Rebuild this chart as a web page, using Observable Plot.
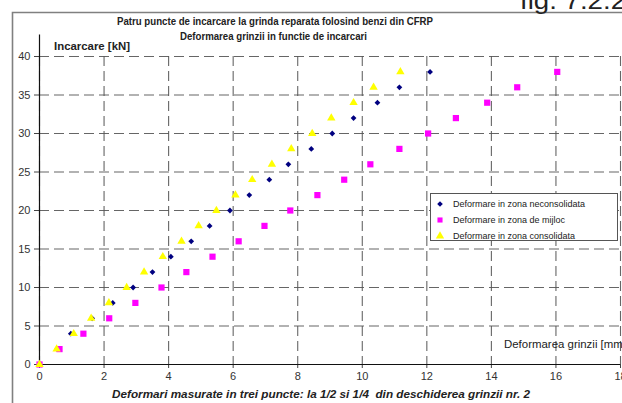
<!DOCTYPE html>
<html>
<head>
<meta charset="utf-8">
<script src="https://cdn.jsdelivr.net/npm/d3@7"></script>
<script src="https://cdn.jsdelivr.net/npm/@observablehq/plot@0.6"></script>
<style>
  html, body { margin: 0; padding: 0; background: #fff; }
  #chart { position: relative; width: 622px; height: 403px; overflow: hidden; font-family: Arial, "Liberation Sans", sans-serif; }
  #legend { position: absolute; left: 430px; top: 193px; width: 188px; height: 48px; border: 1px solid #555; background: #fff; font-size: 9px; color: #222; box-sizing: border-box; }
  #legend .row { position: absolute; left: 0; height: 14px; display: flex; align-items: center; white-space: nowrap; }
  #legend svg { margin-left: 4px; margin-right: 8px; }
</style>
</head>
<body>
<div id="chart"></div>
<script>
// ---- data ----
const loads = [0, 2, 4, 6, 8, 10, 12, 14, 16, 18, 20, 22, 24, 26, 28, 30, 32, 34, 36, 38];
const neconsolidata = [0, 0.55, 0.97, 1.63, 2.27, 2.9, 3.5, 4.07, 4.7, 5.27, 5.9, 6.5, 7.12, 7.71, 8.42, 9.07, 9.73, 10.47, 11.15, 12.1];
const mijloc = [0, 0.62, 1.36, 2.16, 2.97, 3.78, 4.55, 5.36, 6.17, 6.97, 7.77, 8.61, 9.44, 10.25, 11.15, 12.04, 12.9, 13.87, 14.8, 16.04];
const consolidata = [0, 0.53, 1.06, 1.6, 2.15, 2.7, 3.24, 3.82, 4.4, 4.93, 5.48, 6.07, 6.59, 7.2, 7.8, 8.45, 9.04, 9.73, 10.35, 11.18];
const seriesNames = ["Deformare in zona neconsolidata", "Deformare in zona de mijloc", "Deformare in zona consolidata"];
const seriesColors = ["#000080", "#ff00ff", "#ffff00"];
const seriesSymbols = ["diamond2", "square", "triangle"];
const xTicks = [0, 2, 4, 6, 8, 10, 12, 14, 16, 18];
const yTicks = [0, 5, 10, 15, 20, 25, 30, 35, 40];
const title1 = "Patru puncte de incarcare la grinda reparata folosind benzi din CFRP";
const title2 = "Deformarea grinzii in functie de incarcari";
const yLabel = "Incarcare [kN]";
const xLabel = "Deformarea grinzii [mm]";
const bottomTitle = "Deformari masurate in trei puncte: la 1/2 si 1/4  din deschiderea grinzii nr. 2";
const figLabel = "fig. 7.2.2";

const toRows = (vals) => vals.map((v, i) => ({x: v, y: loads[i]}));
const sets = [neconsolidata, mijloc, consolidata].map(toRows);
const radii = [2.6, 3.5, 3.1];

const dash = "10,5";
const plot = Plot.plot({
  width: 622,
  height: 403,
  marginLeft: 39,
  marginRight: 2,
  marginTop: 56,
  marginBottom: 39,
  style: {fontFamily: "Arial, 'Liberation Sans', sans-serif", fontSize: "11px", color: "#333", background: "transparent", overflow: "visible"},
  x: {domain: [0, 18]},
  y: {domain: [0, 40]},
  marks: [
    Plot.gridX(xTicks, {stroke: "#555", strokeOpacity: 0.9, strokeDasharray: dash, strokeWidth: 1.1}),
    Plot.gridY(yTicks, {stroke: "#555", strokeOpacity: 0.9, strokeDasharray: dash, strokeWidth: 1.1}),
    Plot.axisX(xTicks, {tickSize: 4, tickPadding: 4, label: null, stroke: "#444", fill: "#333"}),
    Plot.axisY(yTicks, {tickSize: 5, tickPadding: 4, label: null, stroke: "#444", fill: "#333"}),
    Plot.ruleY([0], {stroke: "#111", strokeWidth: 1.2}),
    Plot.ruleX([0], {y1: 0, y2: 42.8, stroke: "#111", strokeWidth: 1.2}),
    ...sets.map((rows, i) => Plot.dot(rows, {x: "x", y: "y", symbol: () => seriesSymbols[i], fill: seriesColors[i], stroke: "none", r: radii[i]}))
  ]
});
plot.style.position = "absolute";
plot.style.left = "0";
plot.style.top = "0";
const chart = document.getElementById("chart");
chart.appendChild(plot);

// overlay texts & frame inside the plot svg
const svg = d3.select(plot);
svg.append("path").attr("d", "M12.5,403V12.5H622").attr("fill", "none").attr("stroke", "#808080").attr("stroke-width", 1.6);
const addText = (t, x, y, opts) => {
  const el = svg.append("text").attr("x", x).attr("y", y).text(t)
    .attr("font-family", "Arial, 'Liberation Sans', sans-serif")
    .attr("font-size", opts.size || 11)
    .attr("font-weight", opts.weight || "normal")
    .attr("font-style", opts.style || "normal")
    .attr("fill", opts.fill || "#222")
    .attr("text-anchor", opts.anchor || "start");
  if (opts.len) el.attr("textLength", opts.len).attr("lengthAdjust", "spacingAndGlyphs");
  return el;
};
addText(figLabel, 520, 9, {size: 24, len: 106, fill: "#222"});
addText(title1, 117, 25, {weight: "bold", len: 316, size: 11});
addText(title2, 180, 40, {weight: "bold", len: 187, size: 11});
addText(yLabel, 54, 50, {weight: "bold", len: 76, size: 11});
addText(xLabel, 504, 348, {len: 122, size: 11});
addText(bottomTitle, 112, 398, {weight: "bold", style: "italic", len: 418, size: 11});

// legend
const legend = document.createElement("div");
legend.id = "legend";
const legendSymbols = [d3.symbolDiamond2, d3.symbolSquare, d3.symbolTriangle];
const legendSizes = [20, 26, 30];
seriesNames.forEach((name, i) => {
  const row = document.createElement("div");
  row.className = "row";
  row.style.top = (3 + i * 16) + "px";
  const s = d3.create("svg").attr("width", 10).attr("height", 10);
  const sym = d3.symbol().type(legendSymbols[i]).size(legendSizes[i]);
  s.append("path").attr("transform", "translate(5,5)").attr("d", sym()).attr("fill", seriesColors[i]);
  row.appendChild(s.node());
  const span = document.createElement("span");
  span.textContent = name;
  row.appendChild(span);
  legend.appendChild(row);
});
chart.appendChild(legend);
</script>
</body>
</html>
